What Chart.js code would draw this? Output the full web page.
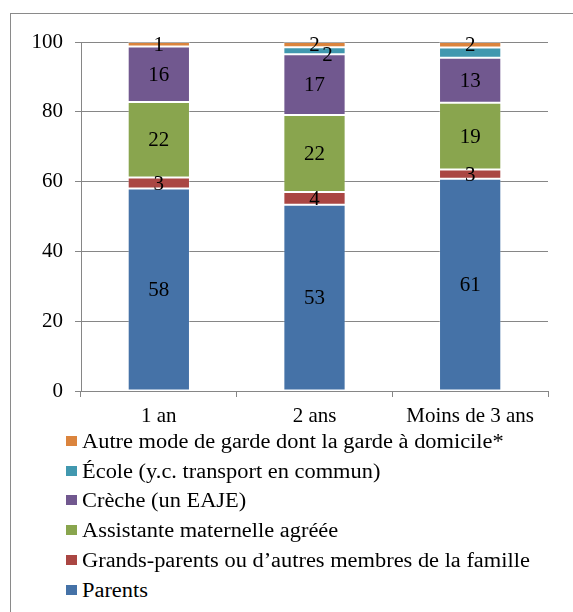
<!DOCTYPE html>
<html>
<head>
<meta charset="utf-8">
<script src="https://cdn.jsdelivr.net/npm/chart.js@4"></script>
<style>
    html, body { margin: 0; padding: 0; background: #fff; overflow: hidden; }
    body { width: 573px; height: 612px; position: relative; font-family: 'Liberation Serif', 'Times New Roman', serif; }
    #frame { position: absolute; left: 10px; top: 13px; width: 600px; height: 640px; border-left: 1px solid #8a8a8a; border-top: 1px solid #8a8a8a; }
    #chartBox { position: absolute; left: 0; top: 0; width: 573px; height: 430px; }
    #legend { position: absolute; left: 0; top: 0; }
    .item { position: absolute; left: 66px; height: 24px; white-space: nowrap; font-size: 20px; line-height: 24px; color: #000; }
    .item span.box { position: absolute; left: 0; top: 7px; width: 11px; height: 10px; }
    .item span.txt { position: absolute; left: 16px; top: 0; transform: scaleX(1.12); transform-origin: 0 50%; }
</style>
</head>
<body>
<div id="frame"></div>
<div id="chartBox"><canvas id="chart"></canvas></div>
<div id="legend"></div>
<script>
const categories = ['1 an', '2 ans', 'Moins de 3 ans'];

const seriesNames = [
    'Parents',
    'Grands-parents ou d\u2019autres membres de la famille',
    'Assistante maternelle agr\u00e9\u00e9e',
    'Cr\u00e8che (un EAJE)',
    '\u00c9cole (y.c. transport en commun)',
    'Autre mode de garde dont la garde \u00e0 domicile*'
];

const parents = [58.0, 53.4, 60.8];
const grandsParents = [3.2, 3.6, 2.7];
const assistante = [21.6, 22.1, 19.1];
const creche = [15.9, 17.4, 12.9];
const ecole = [0, 2.0, 2.9];
const autre = [1.3, 1.5, 1.6];

const yTicks = [0, 20, 40, 60, 80, 100];

const seriesColors = ['#4572A7', '#AA4643', '#89A54E', '#71588F', '#4198AF', '#DB843D'];

// labels Excel left out (dataset, category)
const hiddenLabels = [[4, 2]];

const FONT = "'Liberation Serif', 'Times New Roman', serif";
const gridColor = '#868686';

const allSeries = [parents, grandsParents, assistante, creche, ecole, autre];

const valueLabels = {
    id: 'valueLabels',
    afterDatasetsDraw(chart) {
        const ctx = chart.ctx;
        ctx.save();
        ctx.font = `21px ${FONT}`;
        ctx.fillStyle = '#000';
        ctx.textAlign = 'center';
        ctx.textBaseline = 'middle';
        const boxes = {};
        for (let d = chart.data.datasets.length - 1; d >= 0; d--) {
            const meta = chart.getDatasetMeta(d);
            meta.data.forEach((bar, i) => {
                const v = chart.data.datasets[d].data[i];
                if (!v || v < 0.5) return;
                if (hiddenLabels.some(h => h[0] === d && h[1] === i)) return;
                const txt = String(Math.round(v));
                let x = bar.x;
                let y = (bar.y + bar.base) / 2;
                const w = ctx.measureText(txt).width;
                const list = boxes[i] || (boxes[i] = []);
                if (list.some(b => Math.abs(b.y - y) < 12 && Math.abs(b.x - x) < w)) {
                    x += 13;
                    y += 4;
                }
                list.push({ x, y });
                ctx.fillText(txt, x, y + 1);
            });
        }
        ctx.restore();
    }
};

const ctx = document.getElementById('chart').getContext('2d');
const chart = new Chart(ctx, {
    type: 'bar',
    data: {
        labels: categories,
        datasets: allSeries.map((data, k) => ({
            label: seriesNames[k],
            data: data,
            backgroundColor: seriesColors[k],
            borderColor: 'rgba(255,255,255,0.3)',
            borderWidth: 1,
            borderSkipped: false,
            categoryPercentage: 1,
            barPercentage: 0.4
        }))
    },
    options: {
        responsive: true,
        maintainAspectRatio: false,
        animation: false,
        layout: { padding: { top: 42, right: 25, left: 0, bottom: 0 } },
        plugins: {
            legend: { display: false },
            tooltip: { enabled: false }
        },
        scales: {
            x: {
                stacked: true,
                grid: { display: true, drawOnChartArea: false, offset: true, tickLength: 6, color: gridColor },
                border: { color: gridColor, width: 1 },
                ticks: { color: '#000', font: { family: FONT, size: 21 }, padding: 7, maxRotation: 0 },
                afterFit: s => { s.height = 39; }
            },
            y: {
                stacked: true,
                min: 0,
                max: 100,
                afterBuildTicks: s => { s.ticks = yTicks.map(v => ({ value: v })); },
                grid: { color: gridColor, tickLength: 6 },
                border: { color: gridColor, width: 1 },
                ticks: { color: '#000', font: { family: FONT, size: 21 }, padding: 12 },
                afterFit: s => { s.width = 81; }
            }
        }
    },
    plugins: [valueLabels]
});

// legend, one item per line, top series first
const rowCenters = [441, 470.5, 500, 530, 560, 590];
const legendEl = document.getElementById('legend');
chart.data.datasets.slice().reverse().forEach((ds, k) => {
    const row = document.createElement('div');
    row.className = 'item';
    row.style.top = (rowCenters[k] - 12) + 'px';
    row.innerHTML = `<span class="box" style="background:${ds.backgroundColor}"></span><span class="txt">${ds.label}</span>`;
    legendEl.appendChild(row);
});
</script>
</body>
</html>
